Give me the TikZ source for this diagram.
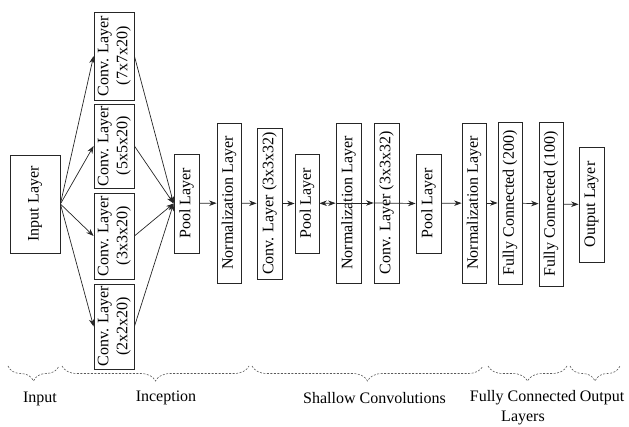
\documentclass[tikz,border=0pt]{standalone}
\usepackage{fontspec}
\setmainfont{Liberation Serif}
\usetikzlibrary{arrows.meta,decorations.pathreplacing}
\newcommand{\vlab}[1]{\rotatebox{90}{#1}}
\newcommand{\vtwo}[2]{\rotatebox{90}{\begin{tabular}{@{}c@{}}#1\\#2\end{tabular}}}
\begin{document}
\begin{tikzpicture}[x=1pt,y=-1pt,
  lay/.style={draw=black!85, line width=0.8pt, inner sep=0pt, font=\fontsize{16}{19}\selectfont, align=center},
  arr/.style={-{Stealth[length=7.5pt,width=5.5pt]}, line width=0.7pt, draw=black!85},
  darr/.style={{Stealth[length=7.5pt,width=5.5pt]}-{Stealth[length=7.5pt,width=5.5pt]}, line width=0.7pt, draw=black!85},
  brc/.style={decorate, decoration={brace, mirror, amplitude=15pt}, dash pattern=on 2pt off 1.5pt, line width=0.6pt, draw=black!65},
  lbl/.style={font=\fontsize{16}{20}\selectfont, align=center}]
\useasboundingbox (0,0) rectangle (629,427);

% input
\node[lay, minimum width=50pt, minimum height=98pt] (in) at (35,204) {\vlab{Input Layer}};
% inception
\node[lay, minimum width=40pt, minimum height=88pt] (c7) at (114,56) {\vtwo{Conv. Layer}{(7x7x20)}};
\node[lay, minimum width=40pt, minimum height=84pt] (c5) at (114,146) {\vtwo{Conv. Layer}{(5x5x20)}};
\node[lay, minimum width=40pt, minimum height=86pt] (c3) at (114,236) {\vtwo{Conv. Layer}{(3x3x20)}};
\node[lay, minimum width=40pt, minimum height=85pt] (c2) at (114,326.5) {\vtwo{Conv. Layer}{(2x2x20)}};
% shallow convolutions
\node[lay, minimum width=25pt, minimum height=99pt] (p1) at (186.5,203.5) {\vlab{Pool Layer}};
\node[lay, minimum width=24pt, minimum height=160pt] (n1) at (229,203) {\vlab{Normalization Layer}};
\node[lay, minimum width=25pt, minimum height=151pt] (v1) at (269.5,203.5) {\vlab{Conv. Layer (3x3x32)}};
\node[lay, minimum width=24pt, minimum height=99pt] (p2) at (307,203.5) {\vlab{Pool Layer}};
\node[lay, minimum width=25pt, minimum height=160pt] (n2) at (348.5,203) {\vlab{Normalization Layer}};
\node[lay, minimum width=25pt, minimum height=160pt] (v2) at (386.5,203) {\vlab{Conv. Layer (3x3x32)}};
\node[lay, minimum width=25pt, minimum height=99pt] (p3) at (428.5,203.5) {\vlab{Pool Layer}};
\node[lay, minimum width=24pt, minimum height=160pt] (n3) at (474,203) {\vlab{Normalization Layer}};
% fully connected + output
\node[lay, minimum width=24pt, minimum height=162pt] (f2) at (510,203) {\vlab{Fully Connected (200)}};
\node[lay, minimum width=24pt, minimum height=164pt] (f1) at (551,204) {\vlab{Fully Connected (100)}};
\node[lay, minimum width=25pt, minimum height=115pt] (out) at (591.5,204.5) {\vlab{Output Layer}};

% connectors
\foreach \c in {c7,c5,c3,c2} {
  \draw[arr] (in.east) -- (\c.west);
  \draw[arr] (\c.east) -- (p1.west);
}
\draw[arr] (p1) -- (n1);
\draw[arr] (n1) -- (v1);
\draw[arr] (v1) -- (p2);
\draw[darr] (p2) -- (n2);
\draw[arr] (n2.west) -- (v2.west);
\draw[arr] (v2.west) -- (p3.west);
\draw[arr] (p3) -- (n3);
\draw[arr] (n3) -- (f2);
\draw[arr] (f2) -- (f1);
\draw[arr] (f1) -- (out);

% braces
\coordinate (b0) at (8,366);
\coordinate (b1) at (59,366);
\coordinate (b2) at (62,366);
\coordinate (b3) at (249,366);
\coordinate (b4) at (252,366);
\coordinate (b5) at (483,366);
\coordinate (b6) at (488,366);
\coordinate (b7) at (567,366);
\coordinate (b8) at (570,366);
\coordinate (b9) at (620,366);
\draw[brc] (b0) -- (b1);
\draw[brc] (b2) -- (b3);
\draw[brc] (b4) -- (b5);
\draw[brc] (b6) -- (b7);
\draw[brc] (b8) -- (b9);

\node[lbl] (tin) at (40,399) {Input};
\node[lbl] (tinc) at (166,398) {Inception};
\node[lbl] (tsh) at (374.5,398) {Shallow Convolutions};
\node[lbl] (tfc) at (523,408) {Fully Connected\\Layers};
\node[lbl] (tout) at (602,398) {Output};
\end{tikzpicture}
\end{document}
